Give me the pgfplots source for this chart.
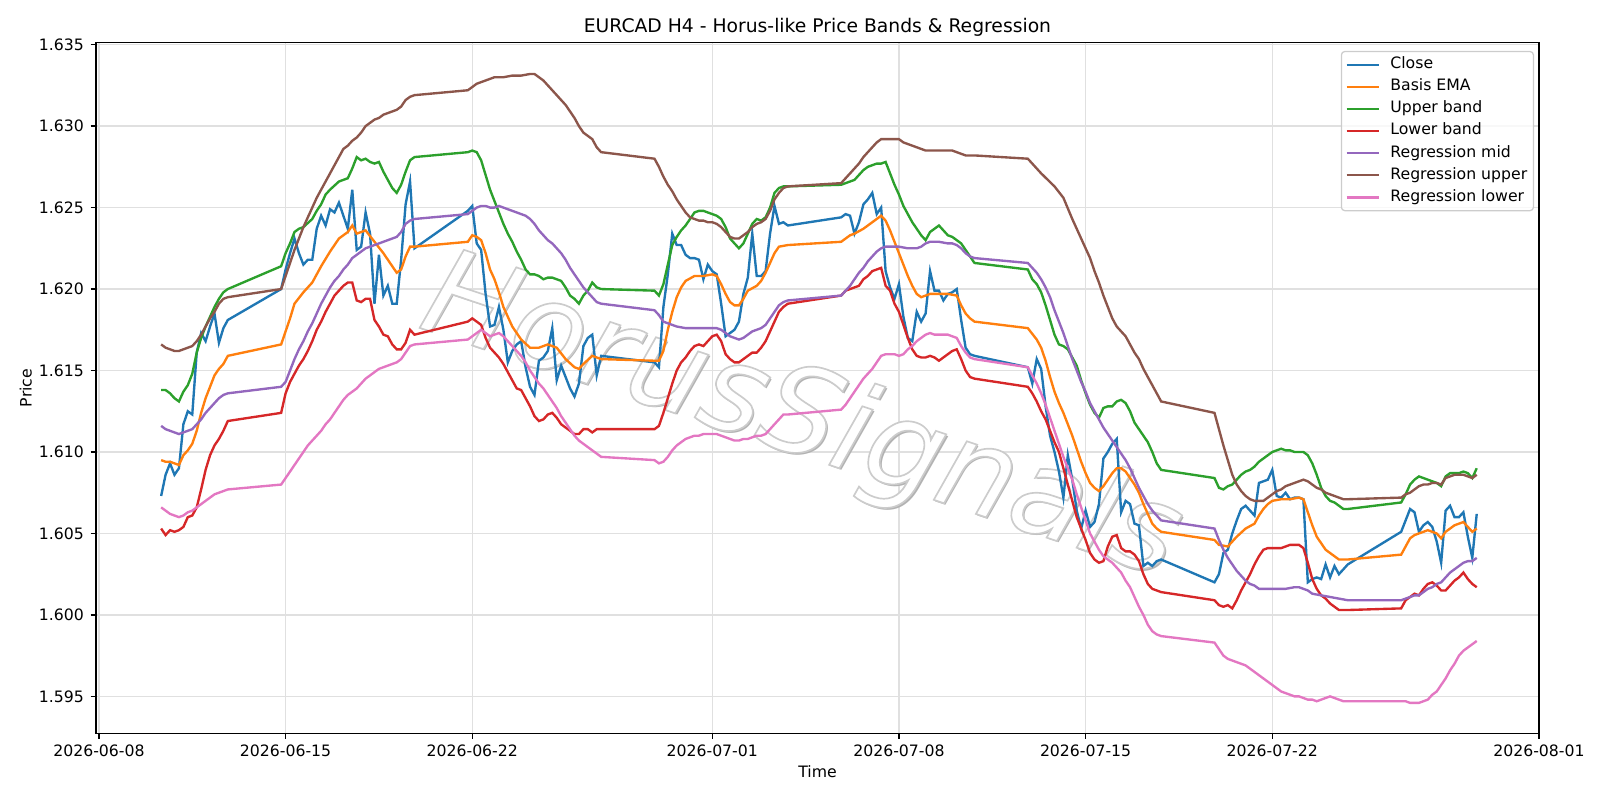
\documentclass[border=0pt]{standalone}
\usepackage{fontspec}
\setmainfont{DejaVu Sans}
\usepackage{pgfplots}
\pgfplotsset{compat=1.18}

\definecolor{cClose}{HTML}{1F77B4}
\definecolor{cEma}{HTML}{FF7F0E}
\definecolor{cUp}{HTML}{2CA02C}
\definecolor{cLow}{HTML}{D62728}
\definecolor{cMid}{HTML}{9467BD}
\definecolor{cRUp}{HTML}{8C564B}
\definecolor{cRLow}{HTML}{E377C2}

\newcommand{\tfs}{\fontsize{11.3}{13.6}\selectfont}
\newcommand{\wm}{\fontsize{87}{87}\selectfont\itshape HorusSignals}
% outlined glyphs: white fill, light grey stroke
\newcommand{\wmoutline}{\special{pdf:literal direct 2 Tr 1.2 w 0.8 G}\wm\special{pdf:literal direct 0 Tr}}

\begin{document}
\begin{tikzpicture}
\useasboundingbox (-69.12pt,-48.1pt) rectangle (1082.88pt,527.9pt);
\begin{axis}[
  width=1038.96pt, height=497.16pt, scale only axis,
  xmin=-0.11, xmax=54.0, ymin=1.59274, ymax=1.63512,
  xtick={0,7,14,23,30,37,44,54},
  xticklabels={2026-06-08,2026-06-15,2026-06-22,2026-07-01,2026-07-08,2026-07-15,2026-07-22,2026-08-01},
  ytick={1.595,1.6,1.605,1.61,1.615,1.62,1.625,1.63,1.635},
  scaled y ticks=false,
  yticklabel style={/pgf/number format/fixed, /pgf/number format/fixed zerofill, /pgf/number format/precision=3},
  /pgf/number format/assume math mode=true,
  tick align=outside, tick pos=left,
  major tick length=3.9pt,
  every tick/.style={black, line width=0.9pt},
  axis line style={black, line width=0.9pt},
  grid=major, grid style={black!12, line width=0.9pt},
  ticklabel style={font=\tfs},
  xticklabel style={anchor=north, inner sep=0pt, yshift=-4.3pt},
  yticklabel style={anchor=east, inner sep=0pt, xshift=-4.6pt},
  title={EURCAD H4 - Horus-like Price Bands \& Regression},
  title style={font=\fontsize{13.5}{16}\selectfont, at={(axis description cs:0.5,1)}, anchor=base, yshift=1.6pt},
  xlabel={Time}, ylabel={Price},
  label style={font=\tfs},
  xlabel style={at={(axis description cs:0.5,-0.0636)}, anchor=base},
  ylabel style={at={(axis description cs:-0.04466,0.5)}, anchor=base},
  legend cell align=left,
  legend image code/.code={\draw[#1] (0pt,0pt) -- (23pt,0pt); \path (29.1pt,0pt);},
  legend style={at={(axis description cs:1,1)}, anchor=north east, xshift=-3.5pt, yshift=-5.9pt,
    draw=black!20, line width=0.9pt, rounded corners=2.5pt, fill=white, fill opacity=0.8, text opacity=1,
    font=\tfs, inner xsep=3pt, inner ysep=2.7pt, row sep=2.1pt,
    nodes={font=\tfs, inner sep=1.5pt, text height=8.2pt, text depth=2.6pt}},
]

% watermark: grey drop shadow under white outlined letters
\node[xshift=1.5pt, yshift=-1.5pt, rotate=-18.5, text=black!30] at (axis description cs:0.4885,0.4532) {\wm};
\node[rotate=-18.5, text=white] at (axis description cs:0.4885,0.4532) {\wmoutline};

\addplot[cClose, line width=1.7pt] coordinates {
(2.333,1.6073)(2.5,1.6086)(2.667,1.6093)(2.833,1.6086)(3,1.6090)(3.167,1.6117)(3.333,1.6125)(3.5,1.6123)(3.667,1.6161)(3.833,1.6173)(4,1.6168)(4.167,1.6177)(4.333,1.6185)(4.5,1.6167)(4.667,1.6176)(4.833,1.6181)
(6.833,1.6200)(7,1.6212)(7.167,1.6222)(7.333,1.6231)(7.5,1.6222)(7.667,1.6215)(7.833,1.6218)(8,1.6218)(8.167,1.6237)(8.333,1.6245)(8.5,1.6239)(8.667,1.6249)(8.833,1.6247)(9,1.6253)(9.167,1.6245)(9.333,1.6237)(9.5,1.6261)(9.667,1.6224)(9.833,1.6226)(10,1.6247)(10.167,1.6234)(10.333,1.6191)(10.5,1.6221)(10.667,1.6196)(10.833,1.6202)(11,1.6191)(11.167,1.6191)(11.333,1.6218)(11.5,1.6252)(11.667,1.6266)(11.833,1.6225)
(13.833,1.6248)(14,1.6251)(14.167,1.6228)(14.333,1.6224)(14.5,1.6197)(14.667,1.6177)(14.833,1.6178)(15,1.6189)(15.167,1.6175)(15.333,1.6155)(15.5,1.6162)(15.667,1.6166)(15.833,1.6168)(16,1.6152)(16.167,1.6140)(16.333,1.6135)(16.5,1.6156)(16.667,1.6158)(16.833,1.6162)(17,1.6176)(17.167,1.6144)(17.333,1.6153)(17.5,1.6146)(17.667,1.6139)(17.833,1.6134)(18,1.6142)(18.167,1.6165)(18.333,1.6170)(18.5,1.6172)(18.667,1.6147)(18.833,1.6159)
(20.833,1.6155)(21,1.6152)(21.167,1.6189)(21.333,1.6209)(21.5,1.6234)(21.667,1.6227)(21.833,1.6227)(22,1.6221)(22.167,1.6219)(22.333,1.6219)(22.5,1.6218)(22.667,1.6206)(22.833,1.6215)(23,1.6211)(23.167,1.6209)(23.333,1.6191)(23.5,1.6171)(23.667,1.6173)(23.833,1.6175)(24,1.6180)(24.167,1.6197)(24.333,1.6207)(24.5,1.6234)(24.667,1.6208)(24.833,1.6208)(25,1.6211)(25.167,1.6234)(25.333,1.6251)(25.5,1.6240)(25.667,1.6241)(25.833,1.6239)
(27.833,1.6244)(28,1.6246)(28.167,1.6245)(28.333,1.6234)(28.5,1.6241)(28.667,1.6252)(28.833,1.6255)(29,1.6259)(29.167,1.6246)(29.333,1.6250)(29.5,1.6211)(29.667,1.6201)(29.833,1.6194)(30,1.6203)(30.167,1.6183)(30.333,1.6170)(30.5,1.6168)(30.667,1.6186)(30.833,1.6180)(31,1.6185)(31.167,1.6211)(31.333,1.6199)(31.5,1.6199)(31.667,1.6193)(31.833,1.6197)(32,1.6198)(32.167,1.6200)(32.333,1.6181)(32.5,1.6164)(32.667,1.6160)(32.833,1.6159)
(34.833,1.6152)(35,1.6142)(35.167,1.6157)(35.333,1.6151)(35.5,1.6128)(35.667,1.6110)(35.833,1.6100)(36,1.6088)(36.167,1.6072)(36.333,1.6098)(36.5,1.6083)(36.667,1.6064)(36.833,1.6053)(37,1.6064)(37.167,1.6054)(37.333,1.6057)(37.5,1.6068)(37.667,1.6096)(37.833,1.6100)(38,1.6105)(38.167,1.6108)(38.333,1.6063)(38.5,1.6070)(38.667,1.6068)(38.833,1.6056)(39,1.6055)(39.167,1.6030)(39.333,1.6032)(39.5,1.6030)(39.667,1.6033)(39.833,1.6034)
(41.833,1.6020)(42,1.6025)(42.167,1.6038)(42.333,1.6040)(42.5,1.6050)(42.667,1.6058)(42.833,1.6065)(43,1.6067)(43.167,1.6064)(43.333,1.6061)(43.5,1.6081)(43.667,1.6082)(43.833,1.6083)(44,1.6089)(44.167,1.6073)(44.333,1.6072)(44.5,1.6075)(44.667,1.6071)(44.833,1.6072)(45,1.6072)(45.167,1.6071)(45.333,1.6020)(45.5,1.6022)(45.667,1.6023)(45.833,1.6022)(46,1.6031)(46.167,1.6023)(46.333,1.6030)(46.5,1.6025)(46.667,1.6028)(46.833,1.6031)
(48.833,1.6051)(49,1.6058)(49.167,1.6065)(49.333,1.6063)(49.5,1.6051)(49.667,1.6055)(49.833,1.6057)(50,1.6054)(50.167,1.6045)(50.333,1.6032)(50.5,1.6064)(50.667,1.6067)(50.833,1.6060)(51,1.6060)(51.167,1.6063)(51.333,1.6048)(51.5,1.6035)(51.667,1.6062)
};
\addlegendentry{Close}

\addplot[cEma, line width=1.7pt] coordinates {
(2.333,1.6095)(2.5,1.6094)(2.667,1.6094)(2.833,1.6093)(3,1.6092)(3.167,1.6098)(3.333,1.6101)(3.5,1.6105)(3.667,1.6113)(3.833,1.6124)(4,1.6133)(4.167,1.6140)(4.333,1.6147)(4.5,1.6151)(4.667,1.6154)(4.833,1.6159)
(6.833,1.6166)(7.167,1.6182)(7.333,1.6191)(7.667,1.6198)(8,1.6204)(8.333,1.6214)(8.667,1.6223)(9,1.6231)(9.333,1.6235)(9.5,1.6239)(9.667,1.6234)(10,1.6236)(10.333,1.6229)(10.667,1.6222)(11,1.6214)(11.167,1.6210)(11.333,1.6212)(11.5,1.6220)(11.667,1.6226)(11.833,1.6226)
(13.833,1.6229)(14,1.6233)(14.167,1.6232)(14.333,1.6230)(14.5,1.6222)(14.667,1.6212)(14.833,1.6206)(15,1.6198)(15.167,1.6189)(15.5,1.6177)(15.833,1.6169)(16.167,1.6164)(16.5,1.6164)(16.833,1.6166)(17.167,1.6164)(17.5,1.6157)(17.833,1.6152)(18,1.6151)(18.167,1.6154)(18.5,1.6159)(18.833,1.6157)
(20.833,1.6156)(21,1.6156)(21.167,1.6162)(21.333,1.6175)(21.5,1.6186)(21.667,1.6195)(21.833,1.6201)(22,1.6205)(22.333,1.6208)(22.667,1.6208)(23,1.6209)(23.167,1.6208)(23.333,1.6203)(23.5,1.6197)(23.667,1.6192)(23.833,1.6190)(24,1.6190)(24.167,1.6194)(24.333,1.6199)(24.667,1.6202)(24.833,1.6205)(25,1.6210)(25.167,1.6216)(25.333,1.6222)(25.5,1.6226)(25.833,1.6227)
(27.833,1.6229)(28.167,1.6233)(28.333,1.6234)(28.667,1.6237)(29,1.6241)(29.333,1.6245)(29.5,1.6242)(29.667,1.6236)(29.833,1.6229)(30,1.6222)(30.167,1.6215)(30.333,1.6208)(30.5,1.6202)(30.667,1.6197)(30.833,1.6195)(31.167,1.6197)(31.5,1.6197)(31.833,1.6197)(32.167,1.6196)(32.333,1.6190)(32.5,1.6185)(32.667,1.6182)(32.833,1.6180)
(34.833,1.6176)(35.167,1.6169)(35.333,1.6164)(35.5,1.6156)(35.667,1.6146)(35.833,1.6137)(36,1.6130)(36.167,1.6124)(36.5,1.6110)(36.833,1.6094)(37,1.6087)(37.167,1.6081)(37.333,1.6078)(37.5,1.6076)(37.667,1.6079)(37.833,1.6083)(38,1.6087)(38.167,1.6090)(38.333,1.6090)(38.5,1.6088)(38.667,1.6084)(38.833,1.6080)(39,1.6075)(39.167,1.6068)(39.333,1.6062)(39.5,1.6056)(39.667,1.6053)(39.833,1.6051)
(41.833,1.6046)(42,1.6043)(42.333,1.6042)(42.667,1.6048)(43,1.6053)(43.333,1.6056)(43.5,1.6061)(43.667,1.6065)(43.833,1.6068)(44,1.6070)(44.333,1.6071)(44.667,1.6071)(45,1.6072)(45.167,1.6071)(45.333,1.6063)(45.5,1.6055)(45.667,1.6048)(45.833,1.6044)(46,1.6040)(46.333,1.6036)(46.5,1.6034)(46.833,1.6034)
(48.833,1.6037)(49,1.6042)(49.167,1.6047)(49.333,1.6049)(49.5,1.6050)(49.667,1.6051)(49.833,1.6052)(50,1.6051)(50.167,1.6050)(50.333,1.6047)(50.5,1.6051)(50.667,1.6053)(50.833,1.6055)(51,1.6056)(51.167,1.6057)(51.333,1.6054)(51.5,1.6051)(51.667,1.6053)
};
\addlegendentry{Basis EMA}

\addplot[cUp, line width=1.7pt] coordinates {
(2.333,1.6138)(2.5,1.6138)(2.667,1.6136)(2.833,1.6133)(3,1.6131)(3.167,1.6137)(3.333,1.6141)(3.5,1.6148)(3.667,1.6161)(3.833,1.6170)(4,1.6177)(4.167,1.6183)(4.333,1.6189)(4.5,1.6194)(4.667,1.6198)(4.833,1.6200)
(6.833,1.6214)(7,1.6222)(7.167,1.6228)(7.333,1.6235)(7.5,1.6237)(7.667,1.6238)(8,1.6243)(8.167,1.6248)(8.333,1.6252)(8.5,1.6258)(8.667,1.6261)(9,1.6266)(9.333,1.6268)(9.5,1.6274)(9.667,1.6281)(9.833,1.6279)(10,1.6280)(10.167,1.6278)(10.333,1.6277)(10.5,1.6278)(10.667,1.6272)(10.833,1.6267)(11,1.6262)(11.167,1.6259)(11.333,1.6264)(11.5,1.6272)(11.667,1.6279)(11.833,1.6281)
(13.833,1.6284)(14,1.6285)(14.167,1.6284)(14.333,1.6279)(14.5,1.6270)(14.667,1.6261)(14.833,1.6254)(15,1.6247)(15.167,1.6240)(15.333,1.6234)(15.5,1.6229)(15.667,1.6223)(15.833,1.6218)(16,1.6212)(16.167,1.6209)(16.333,1.6209)(16.5,1.6208)(16.667,1.6206)(16.833,1.6207)(17,1.6207)(17.167,1.6206)(17.333,1.6205)(17.5,1.6201)(17.667,1.6196)(17.833,1.6194)(18,1.6191)(18.167,1.6196)(18.333,1.6199)(18.5,1.6204)(18.667,1.6201)(18.833,1.6200)
(20.833,1.6199)(21,1.6196)(21.167,1.6203)(21.333,1.6215)(21.5,1.6227)(21.667,1.6232)(21.833,1.6236)(22,1.6239)(22.167,1.6243)(22.333,1.6247)(22.5,1.6248)(22.667,1.6248)(22.833,1.6247)(23,1.6246)(23.167,1.6245)(23.333,1.6243)(23.5,1.6238)(23.667,1.6231)(23.833,1.6228)(24,1.6225)(24.167,1.6228)(24.333,1.6234)(24.5,1.6240)(24.667,1.6243)(24.833,1.6242)(25,1.6244)(25.167,1.6250)(25.333,1.6259)(25.5,1.6262)(25.667,1.6263)(25.833,1.6263)
(27.833,1.6264)(28.167,1.6266)(28.333,1.6267)(28.667,1.6273)(28.833,1.6275)(29.167,1.6277)(29.333,1.6277)(29.5,1.6278)(29.667,1.6271)(29.833,1.6264)(30,1.6258)(30.167,1.6251)(30.333,1.6246)(30.5,1.6241)(30.667,1.6237)(30.833,1.6233)(31,1.6230)(31.167,1.6235)(31.333,1.6237)(31.5,1.6239)(31.667,1.6236)(31.833,1.6233)(32,1.6232)(32.167,1.6230)(32.333,1.6228)(32.5,1.6224)(32.667,1.6220)(32.833,1.6216)
(34.833,1.6212)(35,1.6206)(35.167,1.6203)(35.333,1.6198)(35.5,1.6190)(35.667,1.6181)(35.833,1.6172)(36,1.6166)(36.167,1.6165)(36.333,1.6163)(36.5,1.6158)(36.667,1.6153)(36.833,1.6144)(37,1.6136)(37.167,1.6129)(37.333,1.6124)(37.5,1.6121)(37.667,1.6127)(37.833,1.6128)(38,1.6128)(38.167,1.6131)(38.333,1.6132)(38.5,1.6130)(38.667,1.6125)(38.833,1.6118)(39,1.6114)(39.167,1.6110)(39.333,1.6106)(39.5,1.6100)(39.667,1.6093)(39.833,1.6089)
(41.833,1.6084)(42,1.6078)(42.167,1.6077)(42.333,1.6079)(42.5,1.6080)(42.667,1.6083)(42.833,1.6086)(43,1.6088)(43.167,1.6089)(43.333,1.6091)(43.5,1.6094)(43.667,1.6096)(43.833,1.6098)(44,1.6100)(44.167,1.6101)(44.333,1.6102)(44.5,1.6101)(44.667,1.6101)(44.833,1.6100)(45,1.6100)(45.167,1.6100)(45.333,1.6098)(45.5,1.6093)(45.667,1.6086)(45.833,1.6078)(46,1.6073)(46.167,1.6070)(46.333,1.6069)(46.5,1.6067)(46.667,1.6065)(46.833,1.6065)
(48.833,1.6069)(49,1.6074)(49.167,1.6080)(49.333,1.6083)(49.5,1.6085)(49.667,1.6084)(49.833,1.6083)(50,1.6082)(50.167,1.6081)(50.333,1.6079)(50.5,1.6085)(50.667,1.6087)(50.833,1.6087)(51,1.6087)(51.167,1.6088)(51.333,1.6087)(51.5,1.6084)(51.667,1.6090)
};
\addlegendentry{Upper band}

\addplot[cLow, line width=1.7pt] coordinates {
(2.333,1.6053)(2.5,1.6049)(2.667,1.6052)(2.833,1.6051)(3,1.6052)(3.167,1.6054)(3.333,1.6060)(3.5,1.6061)(3.667,1.6066)(3.833,1.6077)(4,1.6089)(4.167,1.6098)(4.333,1.6104)(4.5,1.6108)(4.667,1.6113)(4.833,1.6119)
(6.833,1.6124)(7,1.6136)(7.167,1.6143)(7.333,1.6148)(7.5,1.6153)(7.667,1.6157)(7.833,1.6162)(8,1.6168)(8.167,1.6175)(8.333,1.6180)(8.5,1.6186)(8.667,1.6191)(8.833,1.6196)(9,1.6199)(9.167,1.6202)(9.333,1.6204)(9.5,1.6204)(9.667,1.6193)(9.833,1.6192)(10,1.6194)(10.167,1.6194)(10.333,1.6181)(10.5,1.6177)(10.667,1.6172)(10.833,1.6171)(11,1.6166)(11.167,1.6163)(11.333,1.6163)(11.5,1.6167)(11.667,1.6175)(11.833,1.6172)
(13.833,1.6180)(14,1.6182)(14.167,1.6180)(14.333,1.6178)(14.5,1.6170)(14.667,1.6164)(14.833,1.6161)(15,1.6158)(15.167,1.6154)(15.333,1.6149)(15.5,1.6144)(15.667,1.6139)(15.833,1.6138)(16,1.6133)(16.167,1.6128)(16.333,1.6122)(16.5,1.6119)(16.667,1.6120)(16.833,1.6123)(17,1.6124)(17.167,1.6121)(17.333,1.6117)(17.5,1.6115)(17.667,1.6113)(17.833,1.6111)(18,1.6111)(18.167,1.6114)(18.333,1.6114)(18.5,1.6112)(18.667,1.6114)(18.833,1.6114)
(20.833,1.6114)(21,1.6116)(21.167,1.6124)(21.333,1.6133)(21.5,1.6142)(21.667,1.6150)(21.833,1.6155)(22,1.6158)(22.167,1.6162)(22.333,1.6165)(22.5,1.6166)(22.667,1.6165)(22.833,1.6168)(23,1.6171)(23.167,1.6172)(23.333,1.6168)(23.5,1.6160)(23.667,1.6157)(23.833,1.6155)(24,1.6155)(24.167,1.6157)(24.333,1.6159)(24.5,1.6161)(24.667,1.6161)(24.833,1.6164)(25,1.6168)(25.167,1.6174)(25.333,1.6180)(25.5,1.6186)(25.667,1.6189)(25.833,1.6191)
(27.833,1.6196)(28,1.6199)(28.167,1.6200)(28.333,1.6201)(28.5,1.6202)(28.667,1.6206)(28.833,1.6208)(29,1.6211)(29.167,1.6212)(29.333,1.6213)(29.5,1.6202)(29.667,1.6199)(29.833,1.6191)(30,1.6186)(30.167,1.6178)(30.333,1.6170)(30.5,1.6163)(30.667,1.6159)(30.833,1.6158)(31,1.6158)(31.167,1.6159)(31.333,1.6158)(31.5,1.6156)(31.667,1.6158)(31.833,1.6160)(32,1.6162)(32.167,1.6163)(32.333,1.6157)(32.5,1.6150)(32.667,1.6146)(32.833,1.6145)
(34.833,1.6140)(35,1.6136)(35.167,1.6131)(35.333,1.6125)(35.5,1.6120)(35.667,1.6113)(35.833,1.6106)(36,1.6100)(36.167,1.6090)(36.333,1.6080)(36.5,1.6070)(36.667,1.6060)(36.833,1.6053)(37,1.6046)(37.167,1.6038)(37.333,1.6034)(37.5,1.6032)(37.667,1.6033)(37.833,1.6042)(38,1.6048)(38.167,1.6049)(38.333,1.6041)(38.5,1.6039)(38.667,1.6039)(38.833,1.6037)(39,1.6033)(39.167,1.6025)(39.333,1.6019)(39.5,1.6016)(39.667,1.6015)(39.833,1.6014)
(41.833,1.6009)(42,1.6006)(42.167,1.6005)(42.333,1.6006)(42.5,1.6004)(42.667,1.6009)(42.833,1.6015)(43,1.6020)(43.167,1.6025)(43.333,1.6031)(43.5,1.6036)(43.667,1.6040)(43.833,1.6041)(44,1.6041)(44.167,1.6041)(44.333,1.6041)(44.5,1.6042)(44.667,1.6043)(44.833,1.6043)(45,1.6043)(45.167,1.6041)(45.333,1.6032)(45.5,1.6022)(45.667,1.6016)(45.833,1.6012)(46,1.6010)(46.167,1.6007)(46.333,1.6005)(46.5,1.6003)(46.667,1.6003)(46.833,1.6003)
(48.833,1.6004)(49,1.6009)(49.167,1.6011)(49.333,1.6013)(49.5,1.6012)(49.667,1.6016)(49.833,1.6019)(50,1.6020)(50.167,1.6018)(50.333,1.6015)(50.5,1.6015)(50.667,1.6018)(50.833,1.6021)(51,1.6023)(51.167,1.6026)(51.333,1.6022)(51.5,1.6019)(51.667,1.6017)
};
\addlegendentry{Lower band}

\addplot[cMid, line width=1.7pt] coordinates {
(2.333,1.6116)(2.5,1.6114)(2.667,1.6113)(2.833,1.6112)(3,1.6111)(3.167,1.6112)(3.333,1.6113)(3.5,1.6114)(3.667,1.6117)(3.833,1.6120)(4,1.6124)(4.167,1.6127)(4.333,1.6130)(4.5,1.6133)(4.667,1.6135)(4.833,1.6136)
(6.833,1.6140)(7,1.6143)(7.167,1.6150)(7.333,1.6157)(7.5,1.6163)(7.667,1.6168)(7.833,1.6174)(8,1.6179)(8.167,1.6185)(8.333,1.6191)(8.5,1.6196)(8.667,1.6201)(8.833,1.6205)(9,1.6208)(9.167,1.6212)(9.333,1.6215)(9.5,1.6219)(9.667,1.6221)(9.833,1.6223)(10,1.6225)(10.167,1.6226)(10.333,1.6227)(10.5,1.6228)(10.667,1.6229)(10.833,1.6230)(11,1.6231)(11.167,1.6232)(11.333,1.6235)(11.5,1.6240)(11.667,1.6242)(11.833,1.6243)
(13.833,1.6246)(14,1.6248)(14.167,1.6250)(14.333,1.6251)(14.5,1.6251)(14.667,1.6250)(14.833,1.6250)(15,1.6251)(15.167,1.6250)(15.333,1.6249)(15.5,1.6248)(15.667,1.6247)(15.833,1.6246)(16,1.6245)(16.167,1.6243)(16.333,1.6240)(16.5,1.6236)(16.667,1.6233)(16.833,1.6230)(17,1.6228)(17.167,1.6225)(17.333,1.6222)(17.5,1.6218)(17.667,1.6213)(17.833,1.6209)(18,1.6205)(18.167,1.6201)(18.333,1.6198)(18.5,1.6195)(18.667,1.6192)(18.833,1.6191)
(20.833,1.6187)(21,1.6184)(21.167,1.6180)(21.333,1.6179)(21.5,1.6178)(21.667,1.6177)(22,1.6176)(22.333,1.6176)(22.667,1.6176)(23,1.6176)(23.167,1.6176)(23.333,1.6175)(23.5,1.6173)(23.667,1.6171)(23.833,1.6170)(24,1.6169)(24.167,1.6170)(24.333,1.6172)(24.5,1.6174)(24.667,1.6175)(24.833,1.6176)(25,1.6178)(25.167,1.6182)(25.333,1.6186)(25.5,1.6190)(25.667,1.6192)(25.833,1.6193)
(27.833,1.6196)(28,1.6199)(28.167,1.6202)(28.333,1.6206)(28.5,1.6210)(28.667,1.6213)(28.833,1.6217)(29,1.6220)(29.167,1.6223)(29.333,1.6225)(29.5,1.6226)(29.667,1.6226)(30,1.6226)(30.333,1.6225)(30.667,1.6225)(30.833,1.6226)(31,1.6228)(31.167,1.6229)(31.5,1.6229)(31.833,1.6228)(32,1.6228)(32.167,1.6227)(32.333,1.6225)(32.5,1.6222)(32.667,1.6220)(32.833,1.6219)
(34.833,1.6216)(35,1.6213)(35.167,1.6210)(35.333,1.6206)(35.5,1.6201)(35.667,1.6195)(35.833,1.6187)(36,1.6180)(36.167,1.6173)(36.333,1.6165)(36.5,1.6157)(36.667,1.6150)(36.833,1.6143)(37,1.6137)(37.167,1.6130)(37.333,1.6125)(37.5,1.6120)(37.667,1.6115)(37.833,1.6111)(38,1.6107)(38.167,1.6103)(38.333,1.6099)(38.5,1.6095)(38.667,1.6090)(38.833,1.6084)(39,1.6078)(39.167,1.6073)(39.333,1.6068)(39.5,1.6064)(39.667,1.6061)(39.833,1.6058)
(41.833,1.6053)(42,1.6046)(42.167,1.6040)(42.333,1.6035)(42.5,1.6031)(42.667,1.6027)(42.833,1.6024)(43,1.6021)(43.167,1.6019)(43.333,1.6018)(43.5,1.6016)(43.833,1.6016)(44.167,1.6016)(44.5,1.6016)(44.833,1.6017)(45,1.6017)(45.167,1.6016)(45.333,1.6015)(45.5,1.6013)(45.833,1.6012)(46.167,1.6011)(46.5,1.6010)(46.833,1.6009)
(48.833,1.6009)(49,1.6010)(49.167,1.6011)(49.333,1.6012)(49.5,1.6012)(49.667,1.6014)(49.833,1.6016)(50,1.6017)(50.167,1.6019)(50.333,1.6020)(50.5,1.6023)(50.667,1.6026)(50.833,1.6028)(51,1.6030)(51.167,1.6032)(51.333,1.6033)(51.5,1.6033)(51.667,1.6035)
};
\addlegendentry{Regression mid}

\addplot[cRUp, line width=1.7pt] coordinates {
(2.333,1.6166)(2.5,1.6164)(2.667,1.6163)(2.833,1.6162)(3,1.6162)(3.167,1.6163)(3.333,1.6164)(3.5,1.6165)(3.667,1.6168)(3.833,1.6172)(4,1.6177)(4.167,1.6182)(4.333,1.6186)(4.5,1.6191)(4.667,1.6194)(4.833,1.6195)
(6.833,1.6200)(7,1.6208)(7.167,1.6216)(7.333,1.6224)(7.5,1.6231)(7.667,1.6238)(7.833,1.6244)(8,1.6250)(8.167,1.6256)(8.333,1.6261)(8.5,1.6266)(8.667,1.6271)(8.833,1.6276)(9,1.6281)(9.167,1.6286)(9.333,1.6288)(9.5,1.6291)(9.667,1.6293)(9.833,1.6296)(10,1.6300)(10.167,1.6302)(10.333,1.6304)(10.5,1.6305)(10.667,1.6307)(10.833,1.6308)(11,1.6309)(11.167,1.6310)(11.333,1.6312)(11.5,1.6316)(11.667,1.6318)(11.833,1.6319)
(13.833,1.6322)(14,1.6324)(14.167,1.6326)(14.333,1.6327)(14.5,1.6328)(14.667,1.6329)(14.833,1.6330)(15.167,1.6330)(15.5,1.6331)(15.833,1.6331)(16.167,1.6332)(16.333,1.6332)(16.5,1.6330)(16.667,1.6328)(16.833,1.6325)(17,1.6322)(17.167,1.6319)(17.333,1.6316)(17.5,1.6313)(17.667,1.6309)(17.833,1.6305)(18,1.6300)(18.167,1.6296)(18.333,1.6294)(18.5,1.6292)(18.667,1.6287)(18.833,1.6284)
(20.833,1.6280)(21,1.6275)(21.167,1.6269)(21.333,1.6264)(21.5,1.6260)(21.667,1.6255)(21.833,1.6251)(22,1.6247)(22.167,1.6244)(22.333,1.6243)(22.5,1.6242)(22.667,1.6242)(22.833,1.6241)(23,1.6241)(23.167,1.6240)(23.333,1.6238)(23.5,1.6235)(23.667,1.6232)(23.833,1.6231)(24,1.6231)(24.167,1.6233)(24.333,1.6235)(24.5,1.6238)(24.667,1.6240)(24.833,1.6241)(25,1.6243)(25.167,1.6248)(25.333,1.6255)(25.5,1.6259)(25.667,1.6262)(25.833,1.6263)
(27.833,1.6265)(28,1.6268)(28.167,1.6271)(28.333,1.6274)(28.5,1.6277)(28.667,1.6281)(28.833,1.6284)(29,1.6287)(29.167,1.6290)(29.333,1.6292)(29.5,1.6292)(29.833,1.6292)(30,1.6292)(30.167,1.6290)(30.333,1.6289)(30.5,1.6288)(30.667,1.6287)(30.833,1.6286)(31,1.6285)(31.333,1.6285)(31.667,1.6285)(32,1.6285)(32.167,1.6284)(32.333,1.6283)(32.5,1.6282)(32.833,1.6282)
(34.833,1.6280)(35.333,1.6271)(35.833,1.6263)(36.167,1.6256)(36.5,1.6243)(36.833,1.6231)(37.167,1.6219)(37.333,1.6211)(37.5,1.6204)(37.667,1.6196)(37.833,1.6189)(38,1.6182)(38.167,1.6177)(38.333,1.6174)(38.5,1.6171)(38.667,1.6166)(38.833,1.6161)(39,1.6157)(39.167,1.6151)(39.333,1.6146)(39.5,1.6141)(39.667,1.6136)(39.833,1.6131)
(41.833,1.6124)(42,1.6114)(42.167,1.6104)(42.333,1.6095)(42.5,1.6086)(42.667,1.6080)(42.833,1.6076)(43,1.6073)(43.167,1.6071)(43.333,1.6070)(43.5,1.6070)(43.667,1.6070)(43.833,1.6072)(44,1.6074)(44.167,1.6076)(44.333,1.6077)(44.5,1.6079)(44.667,1.6080)(44.833,1.6081)(45,1.6082)(45.167,1.6083)(45.333,1.6082)(45.5,1.6080)(45.667,1.6078)(45.833,1.6077)(46,1.6075)(46.167,1.6074)(46.333,1.6073)(46.5,1.6072)(46.667,1.6071)(46.833,1.6071)
(48.833,1.6072)(49,1.6074)(49.167,1.6075)(49.333,1.6077)(49.5,1.6079)(49.667,1.6080)(49.833,1.6080)(50,1.6081)(50.167,1.6081)(50.333,1.6080)(50.5,1.6084)(50.667,1.6085)(50.833,1.6086)(51,1.6086)(51.167,1.6086)(51.333,1.6085)(51.5,1.6084)(51.667,1.6086)
};
\addlegendentry{Regression upper}

\addplot[cRLow, line width=1.7pt] coordinates {
(2.333,1.6066)(2.5,1.6064)(2.667,1.6062)(2.833,1.6061)(3,1.6060)(3.167,1.6061)(3.333,1.6063)(3.5,1.6064)(3.667,1.6066)(3.833,1.6068)(4,1.6070)(4.167,1.6072)(4.333,1.6074)(4.5,1.6075)(4.667,1.6076)(4.833,1.6077)
(6.833,1.6080)(7,1.6084)(7.167,1.6088)(7.333,1.6092)(7.5,1.6096)(7.667,1.6100)(7.833,1.6104)(8,1.6107)(8.167,1.6110)(8.333,1.6113)(8.5,1.6117)(8.667,1.6120)(8.833,1.6124)(9,1.6128)(9.167,1.6132)(9.333,1.6135)(9.5,1.6137)(9.667,1.6139)(9.833,1.6142)(10,1.6145)(10.167,1.6147)(10.333,1.6149)(10.5,1.6151)(10.667,1.6152)(10.833,1.6153)(11,1.6154)(11.167,1.6155)(11.333,1.6157)(11.5,1.6161)(11.667,1.6165)(11.833,1.6166)
(13.833,1.6169)(14,1.6171)(14.167,1.6173)(14.333,1.6175)(14.5,1.6173)(14.667,1.6171)(14.833,1.6172)(15,1.6173)(15.167,1.6171)(15.333,1.6168)(15.5,1.6165)(15.667,1.6162)(15.833,1.6159)(16,1.6155)(16.167,1.6150)(16.333,1.6146)(16.5,1.6142)(16.667,1.6139)(16.833,1.6135)(17,1.6131)(17.167,1.6127)(17.333,1.6122)(17.5,1.6118)(17.667,1.6114)(17.833,1.6110)(18,1.6107)(18.167,1.6105)(18.333,1.6103)(18.5,1.6101)(18.667,1.6099)(18.833,1.6097)
(20.833,1.6095)(21,1.6093)(21.167,1.6094)(21.333,1.6097)(21.5,1.6101)(21.667,1.6104)(21.833,1.6106)(22,1.6108)(22.167,1.6109)(22.333,1.6110)(22.5,1.6110)(22.667,1.6111)(22.833,1.6111)(23,1.6111)(23.167,1.6111)(23.333,1.6110)(23.5,1.6109)(23.667,1.6108)(23.833,1.6107)(24,1.6107)(24.167,1.6108)(24.333,1.6108)(24.5,1.6109)(24.667,1.6110)(24.833,1.6110)(25,1.6111)(25.167,1.6114)(25.333,1.6117)(25.5,1.6120)(25.667,1.6123)(25.833,1.6123)
(27.833,1.6126)(28,1.6129)(28.167,1.6133)(28.333,1.6137)(28.5,1.6141)(28.667,1.6145)(28.833,1.6148)(29,1.6151)(29.167,1.6155)(29.333,1.6159)(29.5,1.6160)(29.667,1.6160)(29.833,1.6160)(30,1.6159)(30.167,1.6160)(30.333,1.6163)(30.5,1.6165)(30.667,1.6168)(30.833,1.6170)(31,1.6172)(31.167,1.6173)(31.333,1.6172)(31.5,1.6172)(31.667,1.6172)(31.833,1.6172)(32,1.6171)(32.167,1.6170)(32.333,1.6165)(32.5,1.6161)(32.667,1.6158)(32.833,1.6157)
(34.833,1.6152)(35,1.6147)(35.167,1.6142)(35.333,1.6136)(35.5,1.6129)(35.667,1.6121)(35.833,1.6113)(36,1.6105)(36.167,1.6097)(36.333,1.6090)(36.5,1.6083)(36.667,1.6074)(36.833,1.6066)(37,1.6058)(37.167,1.6050)(37.333,1.6045)(37.5,1.6040)(37.667,1.6036)(37.833,1.6034)(38,1.6032)(38.167,1.6029)(38.333,1.6026)(38.5,1.6021)(38.667,1.6017)(38.833,1.6011)(39,1.6005)(39.167,1.6000)(39.333,1.5994)(39.5,1.5990)(39.667,1.5988)(39.833,1.5987)
(41.833,1.5983)(42,1.5979)(42.167,1.5975)(42.333,1.5973)(42.5,1.5972)(42.667,1.5971)(42.833,1.5970)(43,1.5969)(43.167,1.5967)(43.333,1.5965)(43.5,1.5963)(43.667,1.5961)(43.833,1.5959)(44,1.5957)(44.167,1.5955)(44.333,1.5953)(44.5,1.5952)(44.667,1.5951)(44.833,1.5950)(45,1.5950)(45.167,1.5949)(45.333,1.5948)(45.5,1.5948)(45.667,1.5947)(45.833,1.5948)(46,1.5949)(46.167,1.5950)(46.333,1.5949)(46.5,1.5948)(46.667,1.5947)(46.833,1.5947)
(48.833,1.5947)(49,1.5947)(49.167,1.5946)(49.333,1.5946)(49.5,1.5946)(49.667,1.5947)(49.833,1.5948)(50,1.5951)(50.167,1.5953)(50.333,1.5957)(50.5,1.5961)(50.667,1.5966)(50.833,1.5970)(51,1.5975)(51.167,1.5978)(51.333,1.5980)(51.5,1.5982)(51.667,1.5984)
};
\addlegendentry{Regression lower}

\end{axis}
\end{tikzpicture}
\end{document}
